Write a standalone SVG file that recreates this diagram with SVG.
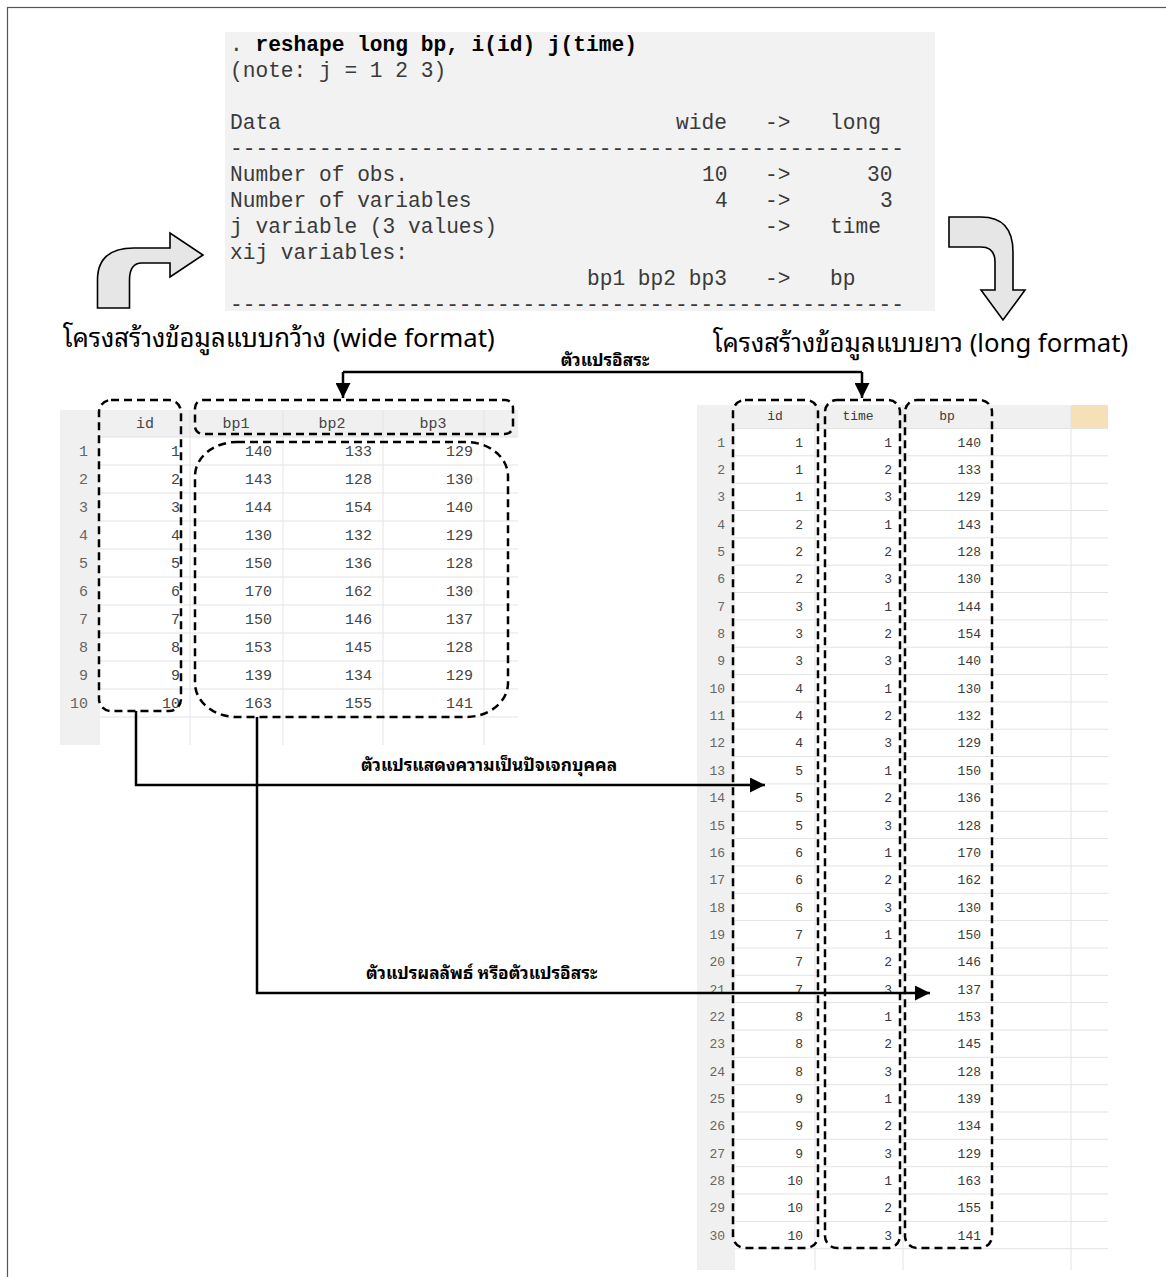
<svg xmlns="http://www.w3.org/2000/svg" width="1166" height="1277" viewBox="0 0 1166 1277">
  <defs>
    <marker id="arrow" viewBox="0 0 10 10" refX="10" refY="5" markerWidth="6" markerHeight="6" markerUnits="strokeWidth" orient="auto">
      <path d="M0,0 L10,5 L0,10 Z" fill="#000"/>
    </marker>
    <style>
      .code { font-family: "Liberation Mono", "Courier New", monospace; font-size: 21.2px; fill: #3a3a3a; }
      .code .b { font-weight: bold; fill: #000; }
      .head { font-family: "Noto Sans Thai Looped", Loma, Garuda, Tahoma, "Leelawadee UI", "Noto Sans Thai", "Noto Sans", sans-serif; font-size: 25.7px; fill: #000; }
      .lbl { font-family: "Noto Sans Thai Looped", Loma, Garuda, Tahoma, "Leelawadee UI", "Noto Sans Thai", "Noto Sans", sans-serif; font-size: 17.3px; font-weight: bold; fill: #000; }
      .cellL { font-family: "Liberation Mono", "Courier New", monospace; font-size: 15px; fill: #444; text-anchor: end; }
      .hdrL { font-family: "Liberation Mono", "Courier New", monospace; font-size: 15px; fill: #444; text-anchor: middle; }
      .numL { font-family: "Liberation Mono", "Courier New", monospace; font-size: 15px; fill: #666; text-anchor: end; }
      .cellR { font-family: "Liberation Mono", "Courier New", monospace; font-size: 13px; fill: #3a3a3a; text-anchor: end; }
      .hdrR { font-family: "Liberation Mono", "Courier New", monospace; font-size: 13px; fill: #3a3a3a; text-anchor: middle; }
      .numR { font-family: "Liberation Mono", "Courier New", monospace; font-size: 13px; fill: #666; text-anchor: end; }
      .grid { stroke: #e3e3e3; stroke-width: 1; fill: none; }
      .dash { fill: none; stroke: #000; stroke-width: 2.5; stroke-dasharray: 8 5; }
      .conn { fill: none; stroke: #000; stroke-width: 2.5; }
      .block { fill: #e6e6e6; stroke: #000; stroke-width: 1.6; stroke-linejoin: miter; }
    </style>
  </defs>

  <!-- page frame -->
  <rect x="7.5" y="7.5" width="1180" height="1290" fill="#fff" stroke="#555" stroke-width="1.2"/>

  <!-- Stata reshape output -->
  <g id="stata-output">
    <rect x="225" y="32" width="710" height="279" fill="#f2f2f2"/>
    <text class="code" x="230" y="51">. <tspan class="b">reshape long bp, i(id) j(time)</tspan></text>
    <text class="code" x="230" y="77">(note: j = 1 2 3)</text>
    <text class="code" y="129"><tspan x="230">Data</tspan><tspan x="676">wide</tspan><tspan x="765">-&gt;</tspan><tspan x="830">long</tspan></text>
    <text class="code" x="230" y="155">-----------------------------------------------------</text>
    <text class="code" y="181"><tspan x="230">Number of obs.</tspan><tspan x="702">10</tspan><tspan x="765">-&gt;</tspan><tspan x="867">30</tspan></text>
    <text class="code" y="207"><tspan x="230">Number of variables</tspan><tspan x="715">4</tspan><tspan x="765">-&gt;</tspan><tspan x="880">3</tspan></text>
    <text class="code" y="233"><tspan x="230">j variable (3 values)</tspan><tspan x="765">-&gt;</tspan><tspan x="830">time</tspan></text>
    <text class="code" x="230" y="259">xij variables:</text>
    <text class="code" y="285"><tspan x="587">bp1 bp2 bp3</tspan><tspan x="765">-&gt;</tspan><tspan x="830">bp</tspan></text>
    <text class="code" x="230" y="311">-----------------------------------------------------</text>
  </g>

  <!-- bent block arrows -->
  <g id="arrow-wide">
    <path class="block" d="M97.5,308 L97.5,280 Q97.5,248 134,248 L170,248 L170,233 L203,255 L170,277 L170,263 L142,263 Q129.5,263 129.5,280 L129.5,308 Z"/>
  </g>
  <g id="arrow-long">
    <path class="block" d="M949,217 L981,217 Q1013,217 1013,252 L1013,290 L1025,290 L1003,320 L981,290 L995,290 L995,262 Q995,247 981,247 L949,247 Z"/>
  </g>

  <!-- headings -->
  <g id="heading-wide">
    <text class="head" x="63" y="347">โครงสร้างข้อมูลแบบกว้าง (wide format)</text>
  </g>
  <g id="heading-long">
    <text class="head" x="713" y="352">โครงสร้างข้อมูลแบบยาว (long format)</text>
  </g>

  <!-- wide table -->
  <g id="wide-table">
    <rect x="60" y="410" width="458" height="27" fill="#f0f0f0"/>
    <rect x="60" y="410" width="40" height="335" fill="#f0f0f0"/>
    <path class="grid" d="M100,437H518 M100,465H518 M100,493H518 M100,521H518 M100,549H518 M100,577H518 M100,605H518 M100,633H518 M100,661H518 M100,689H518 M100,717H518 M190,410V745 M283,410V745 M383,410V745 M484,410V745"/>
    <text class="hdrL" x="145" y="428">id</text>
    <text class="hdrL" x="236" y="428">bp1</text>
    <text class="hdrL" x="332" y="428">bp2</text>
    <text class="hdrL" x="433" y="428">bp3</text>
    <g class="numL">
      <text x="88" y="456">1</text><text x="88" y="484">2</text><text x="88" y="512">3</text><text x="88" y="540">4</text><text x="88" y="568">5</text>
      <text x="88" y="596">6</text><text x="88" y="624">7</text><text x="88" y="652">8</text><text x="88" y="680">9</text><text x="88" y="708">10</text>
    </g>
    <g class="cellL">
      <text x="180" y="456">1</text><text x="180" y="484">2</text><text x="180" y="512">3</text><text x="180" y="540">4</text><text x="180" y="568">5</text>
      <text x="180" y="596">6</text><text x="180" y="624">7</text><text x="180" y="652">8</text><text x="180" y="680">9</text><text x="180" y="708">10</text>
      <text x="272" y="456">140</text><text x="372" y="456">133</text><text x="473" y="456">129</text>
      <text x="272" y="484">143</text><text x="372" y="484">128</text><text x="473" y="484">130</text>
      <text x="272" y="512">144</text><text x="372" y="512">154</text><text x="473" y="512">140</text>
      <text x="272" y="540">130</text><text x="372" y="540">132</text><text x="473" y="540">129</text>
      <text x="272" y="568">150</text><text x="372" y="568">136</text><text x="473" y="568">128</text>
      <text x="272" y="596">170</text><text x="372" y="596">162</text><text x="473" y="596">130</text>
      <text x="272" y="624">150</text><text x="372" y="624">146</text><text x="473" y="624">137</text>
      <text x="272" y="652">153</text><text x="372" y="652">145</text><text x="473" y="652">128</text>
      <text x="272" y="680">139</text><text x="372" y="680">134</text><text x="473" y="680">129</text>
      <text x="272" y="708">163</text><text x="372" y="708">155</text><text x="473" y="708">141</text>
    </g>
  </g>

  <!-- long table -->
  <g id="long-table">
    <rect x="697" y="405" width="374" height="23.5" fill="#f0f0f0"/>
    <rect x="1071" y="405" width="37" height="23.5" fill="#f6e0b8"/>
    <rect x="697" y="405" width="38" height="865" fill="#f0f0f0"/>
    <path class="grid" d="M735,428.5H1108 M735,455.8H1108 M735,483.2H1108 M735,510.5H1108 M735,537.9H1108 M735,565.2H1108 M735,592.5H1108 M735,619.9H1108 M735,647.2H1108 M735,674.6H1108 M735,701.9H1108 M735,729.2H1108 M735,756.6H1108 M735,783.9H1108 M735,811.3H1108 M735,838.6H1108 M735,865.9H1108 M735,893.3H1108 M735,920.6H1108 M735,948.0H1108 M735,975.3H1108 M735,1002.6H1108 M735,1030.0H1108 M735,1057.3H1108 M735,1084.7H1108 M735,1112.0H1108 M735,1139.3H1108 M735,1166.7H1108 M735,1194.0H1108 M735,1221.4H1108 M735,1248.7H1108 M815,405V1270 M903,405V1270 M1071,405V1270"/>
    <text class="hdrR" x="775" y="420">id</text>
    <text class="hdrR" x="858" y="420">time</text>
    <text class="hdrR" x="947" y="420">bp</text>
    <g class="numR">
      <text x="725" y="446.7">1</text><text x="725" y="474.0">2</text><text x="725" y="501.4">3</text><text x="725" y="528.7">4</text><text x="725" y="556.1">5</text>
      <text x="725" y="583.4">6</text><text x="725" y="610.7">7</text><text x="725" y="638.1">8</text><text x="725" y="665.4">9</text><text x="725" y="692.8">10</text>
      <text x="725" y="720.1">11</text><text x="725" y="747.4">12</text><text x="725" y="774.8">13</text><text x="725" y="802.1">14</text><text x="725" y="829.5">15</text>
      <text x="725" y="856.8">16</text><text x="725" y="884.1">17</text><text x="725" y="911.5">18</text><text x="725" y="938.8">19</text><text x="725" y="966.2">20</text>
      <text x="725" y="993.5">21</text><text x="725" y="1020.8">22</text><text x="725" y="1048.2">23</text><text x="725" y="1075.5">24</text><text x="725" y="1102.9">25</text>
      <text x="725" y="1130.2">26</text><text x="725" y="1157.5">27</text><text x="725" y="1184.9">28</text><text x="725" y="1212.2">29</text><text x="725" y="1239.6">30</text>
    </g>
    <g class="cellR">
      <text x="803" y="446.7">1</text><text x="892" y="446.7">1</text><text x="981" y="446.7">140</text>
      <text x="803" y="474.0">1</text><text x="892" y="474.0">2</text><text x="981" y="474.0">133</text>
      <text x="803" y="501.4">1</text><text x="892" y="501.4">3</text><text x="981" y="501.4">129</text>
      <text x="803" y="528.7">2</text><text x="892" y="528.7">1</text><text x="981" y="528.7">143</text>
      <text x="803" y="556.1">2</text><text x="892" y="556.1">2</text><text x="981" y="556.1">128</text>
      <text x="803" y="583.4">2</text><text x="892" y="583.4">3</text><text x="981" y="583.4">130</text>
      <text x="803" y="610.7">3</text><text x="892" y="610.7">1</text><text x="981" y="610.7">144</text>
      <text x="803" y="638.1">3</text><text x="892" y="638.1">2</text><text x="981" y="638.1">154</text>
      <text x="803" y="665.4">3</text><text x="892" y="665.4">3</text><text x="981" y="665.4">140</text>
      <text x="803" y="692.8">4</text><text x="892" y="692.8">1</text><text x="981" y="692.8">130</text>
      <text x="803" y="720.1">4</text><text x="892" y="720.1">2</text><text x="981" y="720.1">132</text>
      <text x="803" y="747.4">4</text><text x="892" y="747.4">3</text><text x="981" y="747.4">129</text>
      <text x="803" y="774.8">5</text><text x="892" y="774.8">1</text><text x="981" y="774.8">150</text>
      <text x="803" y="802.1">5</text><text x="892" y="802.1">2</text><text x="981" y="802.1">136</text>
      <text x="803" y="829.5">5</text><text x="892" y="829.5">3</text><text x="981" y="829.5">128</text>
      <text x="803" y="856.8">6</text><text x="892" y="856.8">1</text><text x="981" y="856.8">170</text>
      <text x="803" y="884.1">6</text><text x="892" y="884.1">2</text><text x="981" y="884.1">162</text>
      <text x="803" y="911.5">6</text><text x="892" y="911.5">3</text><text x="981" y="911.5">130</text>
      <text x="803" y="938.8">7</text><text x="892" y="938.8">1</text><text x="981" y="938.8">150</text>
      <text x="803" y="966.2">7</text><text x="892" y="966.2">2</text><text x="981" y="966.2">146</text>
      <text x="803" y="993.5">7</text><text x="892" y="993.5">3</text><text x="981" y="993.5">137</text>
      <text x="803" y="1020.8">8</text><text x="892" y="1020.8">1</text><text x="981" y="1020.8">153</text>
      <text x="803" y="1048.2">8</text><text x="892" y="1048.2">2</text><text x="981" y="1048.2">145</text>
      <text x="803" y="1075.5">8</text><text x="892" y="1075.5">3</text><text x="981" y="1075.5">128</text>
      <text x="803" y="1102.9">9</text><text x="892" y="1102.9">1</text><text x="981" y="1102.9">139</text>
      <text x="803" y="1130.2">9</text><text x="892" y="1130.2">2</text><text x="981" y="1130.2">134</text>
      <text x="803" y="1157.5">9</text><text x="892" y="1157.5">3</text><text x="981" y="1157.5">129</text>
      <text x="803" y="1184.9">10</text><text x="892" y="1184.9">1</text><text x="981" y="1184.9">163</text>
      <text x="803" y="1212.2">10</text><text x="892" y="1212.2">2</text><text x="981" y="1212.2">155</text>
      <text x="803" y="1239.6">10</text><text x="892" y="1239.6">3</text><text x="981" y="1239.6">141</text>
    </g>
  </g>

  <!-- dashed column groupings -->
  <g id="box-wide-id"><rect class="dash" x="99" y="400" width="82" height="311" rx="12"/></g>
  <g id="box-wide-bphead"><rect class="dash" x="195" y="400" width="318" height="34" rx="8"/></g>
  <g id="box-wide-bpdata"><rect class="dash" x="195" y="442" width="313" height="275" rx="42" ry="34"/></g>
  <g id="box-long-id"><rect class="dash" x="733" y="400" width="85" height="848" rx="12"/></g>
  <g id="box-long-time"><rect class="dash" x="825" y="400" width="75" height="848" rx="12"/></g>
  <g id="box-long-bp"><rect class="dash" x="905" y="400" width="87" height="848" rx="12"/></g>

  <!-- connectors -->
  <g id="connectors">
    <path class="conn" d="M343,372 H862"/>
    <path class="conn" d="M343,372 V398" marker-end="url(#arrow)"/>
    <path class="conn" d="M862,372 V398" marker-end="url(#arrow)"/>
    <path class="conn" d="M136,711 V785 H765" marker-end="url(#arrow)"/>
    <path class="conn" d="M257,717 V993 H930" marker-end="url(#arrow)"/>
  </g>

  <!-- connector labels -->
  <g id="labels">
    <text class="lbl" x="605" y="366" text-anchor="middle">ตัวแปรอิสระ</text>
    <text class="lbl" x="361" y="771">ตัวแปรแสดงความเป็นปัจเจกบุคคล</text>
    <text class="lbl" x="366" y="979">ตัวแปรผลลัพธ์ หรือตัวแปรอิสระ</text>
  </g>
</svg>
